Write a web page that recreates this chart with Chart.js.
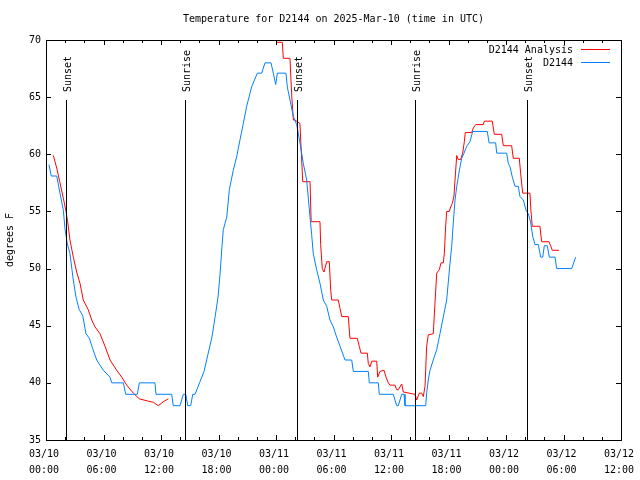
<!DOCTYPE html>
<html>
<head>
<meta charset="utf-8">
<script src="https://cdn.jsdelivr.net/npm/chart.js@4.4.1/dist/chart.umd.min.js"></script>
<style>
  html, body { margin: 0; padding: 0; background: #ffffff; }
  canvas { display: block; }
</style>
</head>
<body>
<canvas id="tempChart" width="640" height="480"></canvas>
<script>
const TITLE = 'Temperature for D2144 on 2025-Mar-10 (time in UTC)';
const Y_TITLE = 'degrees F';
const DAYS = ['03/10', '03/11', '03/12'];
const SERIES_NAMES = ['D2144 Analysis', 'D2144'];

// hours since 03/10 00:00 UTC
const obsHours = [0.31, 0.55, 1.12, 1.46, 1.81, 1.98, 2.22, 2.50, 2.71, 2.85, 3.13, 3.47, 3.83, 4.17, 4.52, 4.87, 5.29, 5.98,
    6.68, 6.86, 8.07, 8.32, 9.53, 9.74, 11.37, 11.48, 13.12, 13.28, 13.98, 14.33, 14.58, 14.79, 15.10, 15.31, 15.55,
    16.07, 16.49, 16.90, 17.32, 17.63, 17.95, 18.16, 18.37, 18.50, 18.86, 19.13, 19.54, 19.90, 20.24, 20.59, 20.94,
    21.46, 22.05, 22.51, 22.85, 23.48, 23.72, 23.97, 24.14, 25.04, 25.18, 25.46, 25.81, 26.16, 26.50, 26.85, 27.20,
    27.55, 27.72, 27.89, 28.24, 28.59, 28.94, 29.29, 29.63, 29.98, 30.33, 30.68, 31.20, 31.90, 32.07, 33.63, 33.74,
    34.67, 34.78, 36.24, 36.59, 36.76, 37.12, 37.36, 37.46, 39.62, 39.72, 39.89, 40.07, 40.41, 40.77, 41.11, 41.81,
    42.16, 42.33, 42.50, 42.68, 42.86, 43.02, 43.20, 43.38, 43.62, 43.90, 44.24, 44.52, 46.05, 46.23, 46.92, 47.03,
    48.07, 48.24, 48.42, 48.66, 48.94, 49.28, 49.46, 49.81, 50.09, 50.33, 50.58, 50.79, 51.03, 51.37, 51.62, 51.83,
    52.00, 52.31, 52.52, 53.11, 53.29, 54.86, 55.27];
const obsTemps = [59.1, 58.1, 58.1, 56.6, 55.1, 53.5, 52.2, 51.3, 49.9, 49.0, 47.5, 46.4, 45.9, 44.3, 43.9, 43.0, 42.0, 41.1,
    40.5, 40.0, 40.0, 39.0, 39.0, 40.0, 40.0, 39.0, 39.0, 38.0, 38.0, 39.0, 39.0, 38.0, 38.0, 39.0, 39.0,
    40.1, 41.0, 42.5, 44.0, 45.7, 47.5, 49.5, 52.0, 53.4, 54.5, 56.9, 58.6, 59.8, 61.25, 62.7, 64.2,
    65.9, 67.1, 67.1, 68.0, 68.0, 67.1, 66.1, 67.1, 67.1, 65.9, 64.75, 63.3, 62.6, 61.0, 59.2, 57.75,
    54.5, 53.0, 51.3, 49.9, 48.7, 47.25, 46.7, 45.5, 44.9, 44.0, 43.2, 42.0, 42.0, 41.0, 41.0, 40.0,
    40.0, 39.0, 39.0, 38.0, 38.0, 39.0, 39.0, 38.0, 38.0, 39.1, 40.25, 41.1, 42.0, 42.9, 44.3, 47.25,
    50.5, 51.9, 54.0, 56.0, 57.2, 58.0, 58.9, 59.65, 60.1, 60.7, 61.1, 62.0, 62.0, 61.0, 61.0, 60.1,
    60.1, 59.2, 58.9, 58.0, 57.2, 57.2, 56.3, 56.0, 55.1, 54.8, 54.0, 52.8, 52.1, 52.1, 51.0, 51.0,
    52.0, 52.0, 51.0, 51.0, 50.0, 50.0, 51.0];

const anaHours = [0.76, 1.12, 1.46, 1.81, 2.09, 2.26, 2.50, 2.85, 3.20, 3.55, 3.89, 4.41, 4.77, 5.11, 5.63, 6.16, 6.68,
    7.38, 7.90, 8.42, 9.11, 9.74, 10.67, 11.20, 11.72, 12.24, 12.76, 18.00,
    24.07, 24.66, 24.76, 25.46, 25.56, 25.67, 25.81, 25.98, 26.50, 26.61, 26.79, 27.55, 27.67, 28.59, 28.66, 28.83,
    29.01, 29.29, 29.56, 29.71, 29.81, 30.50, 30.68, 30.86, 31.54, 31.72, 32.48, 32.69, 32.87, 33.53, 33.63, 33.81,
    33.99, 34.51, 34.61, 34.85, 35.27, 35.48, 35.72, 35.90, 36.42, 36.59, 36.76, 37.12, 37.28, 38.50, 38.68, 38.95,
    39.20, 39.37, 39.55, 39.72, 39.89, 40.41, 40.59, 40.77, 41.04, 41.22, 41.46, 41.56, 41.71, 41.81, 42.08, 42.23,
    42.40, 42.57, 42.68, 42.86, 43.02, 43.27, 43.48, 43.65, 43.75, 44.42, 44.59, 44.84, 45.63, 45.74, 46.57, 46.78,
    47.55, 47.72, 48.59, 48.76, 49.39, 49.53, 49.74, 50.50, 50.60, 50.74, 51.54, 51.72, 52.48, 52.66, 52.83, 53.53];
const anaTemps = [59.9, 58.8, 57.5, 56.15, 55.0, 54.1, 52.5, 51.0, 49.7, 48.7, 47.25, 46.4, 45.5, 44.9, 44.3, 43.2, 42.0,
    41.1, 40.5, 39.8, 39.1, 38.6, 38.4, 38.3, 38.0, 38.35, 38.6, null,
    69.8, 69.8, 68.4, 68.4, 66.5, 64.75, 63.0, 63.0, 62.7, 60.7, 57.6, 57.6, 54.1, 54.1, 52.1, 50.0,
    49.7, 50.6, 50.6, 48.1, 47.25, 47.25, 46.5, 45.8, 45.8, 43.9, 43.9, 43.2, 42.6, 42.6, 41.7, 41.4,
    41.9, 41.9, 40.5, 41.0, 41.1, 40.5, 40.0, 39.8, 39.8, 39.4, 39.4, 39.9, 39.2, 39.0, 38.5, 39.1,
    39.1, 38.8, 39.7, 43.2, 44.2, 44.3, 47.0, 49.6, 49.9, 50.5, 50.5, 51.3, 53.8, 55.0, 55.0, 55.4,
    55.7, 56.35, 57.75, 59.9, 59.55, 59.55, 60.1, 61.1, 61.9, 61.9, 62.3, 62.6, 62.6, 62.9, 62.9, 61.75,
    61.75, 60.75, 60.75, 59.65, 59.65, 58.3, 56.6, 56.6, 55.1, 53.7, 53.7, 52.35, 52.35, 52.0, 51.6, 51.6];

const eventHours = [2.09, 14.5, 26.19, 38.5, 50.19];
const eventNames = ['Sunset', 'Sunrise', 'Sunset', 'Sunrise', 'Sunset'];

const FONT = '10px "DejaVu Sans Mono", monospace';
const RED = '#ff0000';
const BLUE = '#0080ff';

function toPoints(hours, temps) {
    return hours.map((h, i) => ({x: h, y: temps[i]}));
}

function pad2(n) {
    return (n < 10 ? '0' : '') + n;
}

// gnuplot style frame, inward ticks, sun lines, legend and titles
const gnuplotLook = {
    id: 'gnuplotLook',
    afterDatasetsDraw(chart) {
        const ctx = chart.ctx;
        const a = chart.chartArea;
        const xs = chart.scales.x;
        const ys = chart.scales.y;
        ctx.save();
        ctx.strokeStyle = '#000000';
        ctx.fillStyle = '#000000';
        ctx.lineWidth = 1;
        ctx.font = FONT;

        // sunrise / sunset markers
        eventHours.forEach((h, i) => {
            let px = Math.round(xs.getPixelForValue(h)) + 0.5;
            ctx.beginPath();
            ctx.moveTo(px, a.top + 60);
            ctx.lineTo(px, a.bottom);
            ctx.stroke();
            ctx.save();
            ctx.translate(px + 1.5, a.top + 52);
            ctx.rotate(-Math.PI / 2);
            ctx.textAlign = 'left';
            ctx.textBaseline = 'middle';
            ctx.fillText(eventNames[i], 0, 0);
            ctx.restore();
        });

        // x ticks: major every 6h, minor every 2h, on bottom and top
        ctx.beginPath();
        for (let h = 0; h <= 60; h += 2) {
            let px = Math.round(xs.getPixelForValue(h)) + 0.5;
            let len = (h % 6 == 0) ? 5 : 3;
            ctx.moveTo(px, a.bottom);
            ctx.lineTo(px, a.bottom - len);
            ctx.moveTo(px, a.top);
            ctx.lineTo(px, a.top + len);
        }
        // y ticks, left and right
        ys.ticks.forEach(t => {
            let py = Math.round(ys.getPixelForValue(t.value)) + 0.5;
            ctx.moveTo(a.left, py);
            ctx.lineTo(a.left + 5, py);
            ctx.moveTo(a.right, py);
            ctx.lineTo(a.right - 5, py);
        });
        ctx.stroke();

        // frame
        ctx.strokeRect(Math.round(a.left) + 0.5, Math.round(a.top) + 0.5,
            Math.round(a.right - a.left), Math.round(a.bottom - a.top));

        // legend
        const colors = [RED, BLUE];
        ctx.textAlign = 'right';
        ctx.textBaseline = 'middle';
        SERIES_NAMES.forEach((name, i) => {
            let ly = a.top + 9.5 + i * 13;
            ctx.fillStyle = '#000000';
            ctx.fillText(name, a.right - 48, ly + 0.5);
            ctx.strokeStyle = colors[i];
            ctx.beginPath();
            ctx.moveTo(a.right - 40, ly);
            ctx.lineTo(a.right - 11, ly);
            ctx.stroke();
        });

        // titles
        ctx.fillStyle = '#000000';
        ctx.textAlign = 'center';
        ctx.fillText(TITLE, (a.left + a.right) / 2, 19);
        ctx.save();
        ctx.translate(10, (a.top + a.bottom) / 2);
        ctx.rotate(-Math.PI / 2);
        ctx.fillText(Y_TITLE, 0, 0);
        ctx.restore();
        ctx.restore();
    }
};

const ctx = document.getElementById('tempChart').getContext('2d');
const tempChart = new Chart(ctx, {
    type: 'line',
    data: {
        datasets: [
            {
                label: SERIES_NAMES[1],
                data: toPoints(obsHours, obsTemps),
                borderColor: BLUE,
                borderWidth: 1,
                pointRadius: 0,
                tension: 0,
                fill: false
            },
            {
                label: SERIES_NAMES[0],
                data: toPoints(anaHours, anaTemps),
                borderColor: RED,
                borderWidth: 1,
                pointRadius: 0,
                tension: 0,
                spanGaps: false,
                fill: false
            }
        ]
    },
    options: {
        responsive: false,
        animation: false,
        layout: { padding: { top: 40, right: 19, left: 0, bottom: 0 } },
        plugins: {
            legend: { display: false },
            tooltip: { enabled: false },
            title: { display: false }
        },
        scales: {
            x: {
                type: 'linear',
                min: 0,
                max: 60,
                grid: { display: false, drawTicks: false },
                border: { display: false },
                afterFit: s => {
                    s.height = 40;
                    s.paddingLeft = 0;
                    s.paddingRight = 0;
                },
                afterBuildTicks: s => {
                    let t = [];
                    for (let h = 0; h <= 60; h += 6) t.push({value: h});
                    s.ticks = t;
                },
                ticks: {
                    autoSkip: false,
                    maxRotation: 0,
                    padding: 6,
                    labelOffset: -2,
                    color: '#000000',
                    font: { family: '"DejaVu Sans Mono", monospace', size: 10, lineHeight: 1.6 },
                    callback: v => [DAYS[Math.floor(v / 24)], pad2(v % 24) + ':00']
                }
            },
            y: {
                min: 35,
                max: 70,
                grid: { display: false, drawTicks: false },
                border: { display: false },
                afterFit: s => {
                    s.width = 46;
                    s.paddingTop = 0;
                    s.paddingBottom = 0;
                },
                ticks: {
                    stepSize: 5,
                    padding: 5,
                    color: '#000000',
                    font: { family: '"DejaVu Sans Mono", monospace', size: 10 }
                }
            }
        }
    },
    plugins: [gnuplotLook]
});
</script>
</body>
</html>
